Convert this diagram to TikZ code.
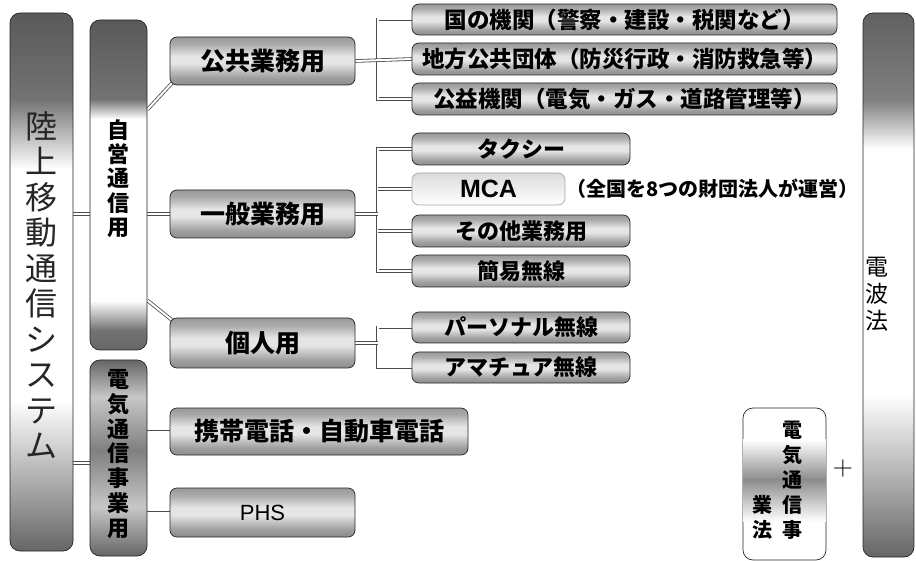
\documentclass[tikz,border=0pt]{standalone}
\usepackage{fontspec}
\setmainfont{Liberation Sans}
\newfontfamily\jp{Noto Sans CJK JP}
\newfontfamily\lat{Liberation Sans}
\newfontfamily\lmr{Latin Modern Roman}
\usetikzlibrary{backgrounds,calc}

\pgfdeclareverticalshading{barsh}{100bp}{color(0bp)=(black!45); color(25bp)=(black!45); color(32.5bp)=(black!38); color(47.5bp)=(black!10); color(55bp)=(black!10); color(67.5bp)=(black!33); color(75bp)=(black!40); color(100bp)=(black!40)}
\pgfdeclareverticalshading{rikush}{100bp}{color(0bp)=(black!60); color(25bp)=(black!60); color(39bp)=(white); color(60.5bp)=(white); color(67bp)=(black!55); color(75bp)=(black!65); color(100bp)=(black!65)}
\pgfdeclareverticalshading{jieish}{100bp}{color(0bp)=(black!60); color(25bp)=(black!60); color(28bp)=(black!55); color(32.5bp)=(white); color(60bp)=(white); color(63bp)=(black!55); color(75bp)=(black!65); color(100bp)=(black!65)}
\pgfdeclareverticalshading{denkish}{100bp}{color(0bp)=(black!60); color(25bp)=(black!60); color(37.5bp)=(black!22); color(52bp)=(black!50); color(65.5bp)=(black!22); color(75bp)=(black!60); color(100bp)=(black!60)}
\pgfdeclareverticalshading{denpash}{100bp}{color(0bp)=(black!60); color(25bp)=(black!60); color(40bp)=(white); color(62.5bp)=(white); color(67bp)=(black!50); color(75bp)=(black!62); color(100bp)=(black!62)}

\tikzset{
  box/.style={draw=black!85, line width=0.7pt, rounded corners=7pt, inner sep=0pt, shading=barsh},
  vbox/.style={draw=black!85, line width=0.7pt, rounded corners=10pt, inner sep=0pt},
  vtxt/.style={align=center, inner sep=0pt},
  conn/.style={draw=black!70, line width=0.8pt, double=white, double distance=2pt},
  tbig/.style={font=\jp\bfseries\fontsize{25}{25}\selectfont},
  tsmall/.style={font=\jp\bfseries\fontsize{22}{22}\selectfont},
  tgov/.style={font=\jp\bfseries\fontsize{22.5}{22.5}\selectfont},
}

\begin{document}
\begin{tikzpicture}[x=1pt,y=-1pt]
\useasboundingbox (0,0) rectangle (916,561);

% left vertical boxes
\node[vbox, shading=rikush, minimum width=63pt, minimum height=538pt] (riku) at (41.5,282) {};
\node[vtxt, font=\jp\fontsize{32}{35.5}\selectfont, text=black!85] (rikut) at (41.5,285) {陸\\上\\移\\動\\通\\信\\シ\\ス\\テ\\ム};

\node[vbox, shading=jieish, minimum width=57pt, minimum height=330pt] (jiei) at (118.5,185) {};
\node[vtxt, font=\jp\bfseries\fontsize{22}{24.2}\selectfont] (jieit) at (118.5,178.5) {自\\営\\通\\信\\用};

\node[vbox, shading=denkish, minimum width=57pt, minimum height=196pt] (denki) at (118.5,458) {};
\node[vtxt, font=\jp\bfseries\fontsize{22}{24.7}\selectfont] (denkit) at (118.5,454) {電\\気\\通\\信\\事\\業\\用};

% middle column
\node[box, tbig, minimum width=185pt, minimum height=48pt] (pub) at (262.5,61) {公共業務用};
\node[box, tbig, minimum width=185pt, minimum height=48pt] (gen) at (262.5,214) {一般業務用};
\node[box, tbig, minimum width=185pt, minimum height=50pt] (ind) at (262.5,343) {個人用};
\node[box, tbig, minimum width=298pt, minimum height=47pt] (keitai) at (319,431.5) {携帯電話・自動車電話};
\node[box, minimum width=185pt, minimum height=49pt, font=\lat\fontsize{22}{22}\selectfont] (phs) at (262.5,512.5) {PHS};

% right column
\node[box, tgov, minimum width=425pt, minimum height=31pt] (g1) at (624.5,19.5) {国の機関（警察・建設・税関など）};
\node[box, tgov, minimum width=425pt, minimum height=32pt] (g2) at (624.5,59) {地方公共団体（防災行政・消防救急等）};
\node[box, tgov, minimum width=425pt, minimum height=32pt] (g3) at (624.5,99) {公益機関（電気・ガス・道路管理等）};

\node[box, tsmall, minimum width=218pt, minimum height=32pt] (t1) at (521,149) {タクシー};
\node[box, top color=black!14, bottom color=white, draw=black!35, minimum width=153pt, minimum height=32pt, font=\lat\bfseries\fontsize{25}{25}\selectfont] (mca) at (488.5,189) {MCA};
\node[anchor=west, inner sep=0pt, font=\jp\bfseries\fontsize{20}{20}\selectfont] (note) at (566,189) {（全国を8つの財団法人が運営）};
\node[box, tsmall, minimum width=218pt, minimum height=32pt] (t3) at (521,231) {その他業務用};
\node[box, tsmall, minimum width=218pt, minimum height=32pt] (t4) at (521,271) {簡易無線};

\node[box, tsmall, minimum width=218pt, minimum height=31pt] (p1) at (521,327.5) {パーソナル無線};
\node[box, tsmall, minimum width=218pt, minimum height=31pt] (p2) at (521,367.5) {アマチュア無線};

% far right
\node[vbox, shading=denpash, minimum width=51pt, minimum height=544pt] (denpa) at (888.5,285) {};
\node[vtxt, font=\jp\fontsize{23}{27}\selectfont] (denpat) at (877,294) {電\\波\\法};

\node[vbox, fill=white, minimum width=83pt, minimum height=152pt] (hou) at (784.5,484) {};
\shade[top color=white, bottom color=black!45] ($(hou.north west)+(0.5,32)$) rectangle ($(hou.north east)+(-0.5,72)$);
\shade[top color=black!45, bottom color=white] ($(hou.north west)+(0.5,72)$) rectangle ($(hou.north east)+(-0.5,114)$);
\node[vtxt, font=\jp\bfseries\fontsize{20}{25}\selectfont] (hout1) at (792,480) {電\\気\\通\\信\\事};
\node[vtxt, font=\jp\bfseries\fontsize{20}{25}\selectfont] (hout2) at (762,517.5) {業\\法};
\node[inner sep=0pt, font=\lmr\fontsize{28}{28}\selectfont] (plus) at (843,469) {+};

% connectors
\begin{pgfonlayer}{background}
\draw[conn] (riku.east |- gen.west) -- (jiei.west |- gen.west);
\draw[conn] ($(riku.east |- denki.west)+(0,5)$) -- ($(denki.west)+(0,5)$);
\draw[conn] (jiei.east |- gen.west) -- (gen.west);
\draw[conn] ($(jiei.north east)+(0,90)$) -- ($(pub.south west)+(3,-3)$);
\draw[conn] ($(jiei.south east)+(0,-50)$) -- ($(ind.north west)+(3,3)$);
\draw[conn] (denki.east |- keitai.west) -- (keitai.west);
\draw[conn] (denki.east |- phs.west) -- (phs.west);

\draw[conn] (g1.west) -- ++(-34,0) |- (g3.west);
\draw[conn] (pub.east) -- (g2.west);

\draw[conn] (t1.west) -- ++(-34,0) |- (t4.west);
\draw[conn] (mca.west) -- ++(-34,0);
\draw[conn] (t3.west) -- ++(-34,0);
\draw[conn] (gen.east) -- ++(23,0);

\draw[conn] (p1.west) -- ++(-34,0) |- (p2.west);
\draw[conn] (ind.east) -- ++(23,0);
\end{pgfonlayer}
\end{tikzpicture}
\end{document}
